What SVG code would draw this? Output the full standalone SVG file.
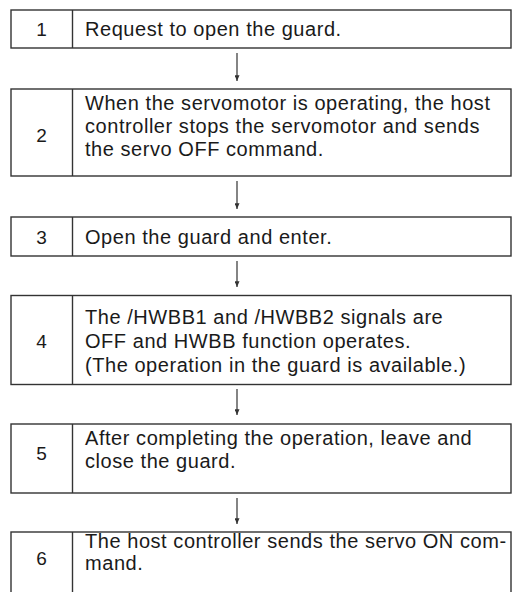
<svg xmlns="http://www.w3.org/2000/svg" width="512" height="592" viewBox="0 0 512 592">
  <defs>
    <style>
      .box { fill: #ffffff; stroke: #333333; stroke-width: 1.4; }
      .div { stroke: #333333; stroke-width: 1.4; }
      .num { font-family: "Liberation Sans", Arial, sans-serif; font-size: 19px; fill: #1a1a1a; text-anchor: middle; }
      .txt { font-family: "Liberation Sans", Arial, sans-serif; font-size: 20px; fill: #1a1a1a; letter-spacing: 0.55px; }
      .conn { stroke: #333333; stroke-width: 1.2; fill: none; marker-end: url(#arrowDown); }
    </style>
    <marker id="arrowDown" viewBox="0 0 6 7" refX="3" refY="7" markerWidth="5" markerHeight="7" markerUnits="userSpaceOnUse" orient="0">
      <path d="M0,0 L6,0 L3,7 Z" fill="#333333"/>
    </marker>
  </defs>
  <rect width="512" height="592" fill="#ffffff"/>

  <g id="connectors">
    <line class="conn" x1="237" y1="53" x2="237" y2="81"/>
    <line class="conn" x1="237" y1="181" x2="237" y2="209"/>
    <line class="conn" x1="237" y1="261" x2="237" y2="287"/>
    <line class="conn" x1="237" y1="389" x2="237" y2="415"/>
    <line class="conn" x1="237" y1="498" x2="237" y2="524"/>
  </g>

  <g id="step1">
    <rect class="box" x="11" y="10" width="500" height="38"/>
    <line class="div" x1="72.5" y1="10" x2="72.5" y2="48"/>
    <text class="num" x="41.5" y="36">1</text>
    <text class="txt" x="85" y="36">Request to open the guard.</text>
  </g>

  <g id="step2">
    <rect class="box" x="11" y="89" width="500" height="87"/>
    <line class="div" x1="72.5" y1="89" x2="72.5" y2="176"/>
    <text class="num" x="41.5" y="142">2</text>
    <text class="txt" x="85" y="110">When the servomotor is operating, the host</text>
    <text class="txt" x="85" y="133">controller stops the servomotor and sends</text>
    <text class="txt" x="85" y="156">the servo OFF command.</text>
  </g>

  <g id="step3">
    <rect class="box" x="11" y="217" width="500" height="39"/>
    <line class="div" x1="72.5" y1="217" x2="72.5" y2="256"/>
    <text class="num" x="41.5" y="244">3</text>
    <text class="txt" x="85" y="244">Open the guard and enter.</text>
  </g>

  <g id="step4">
    <rect class="box" x="11" y="295.5" width="500" height="89"/>
    <line class="div" x1="72.5" y1="295.5" x2="72.5" y2="384.5"/>
    <text class="num" x="41.5" y="348">4</text>
    <text class="txt" x="85" y="324">The /HWBB1 and /HWBB2 signals are</text>
    <text class="txt" x="85" y="348">OFF and HWBB function operates.</text>
    <text class="txt" x="85" y="372">(The operation in the guard is available.)</text>
  </g>

  <g id="step5">
    <rect class="box" x="11" y="424" width="500" height="69"/>
    <line class="div" x1="72.5" y1="424" x2="72.5" y2="493"/>
    <text class="num" x="41.5" y="460">5</text>
    <text class="txt" x="85" y="445">After completing the operation, leave and</text>
    <text class="txt" x="85" y="468">close the guard.</text>
  </g>

  <g id="step6">
    <rect class="box" x="11" y="532" width="500" height="80"/>
    <line class="div" x1="72.5" y1="532" x2="72.5" y2="612"/>
    <text class="num" x="41.5" y="565">6</text>
    <text class="txt" x="85" y="548">The host controller sends the servo ON com-</text>
    <text class="txt" x="85" y="570">mand.</text>
  </g>
</svg>
